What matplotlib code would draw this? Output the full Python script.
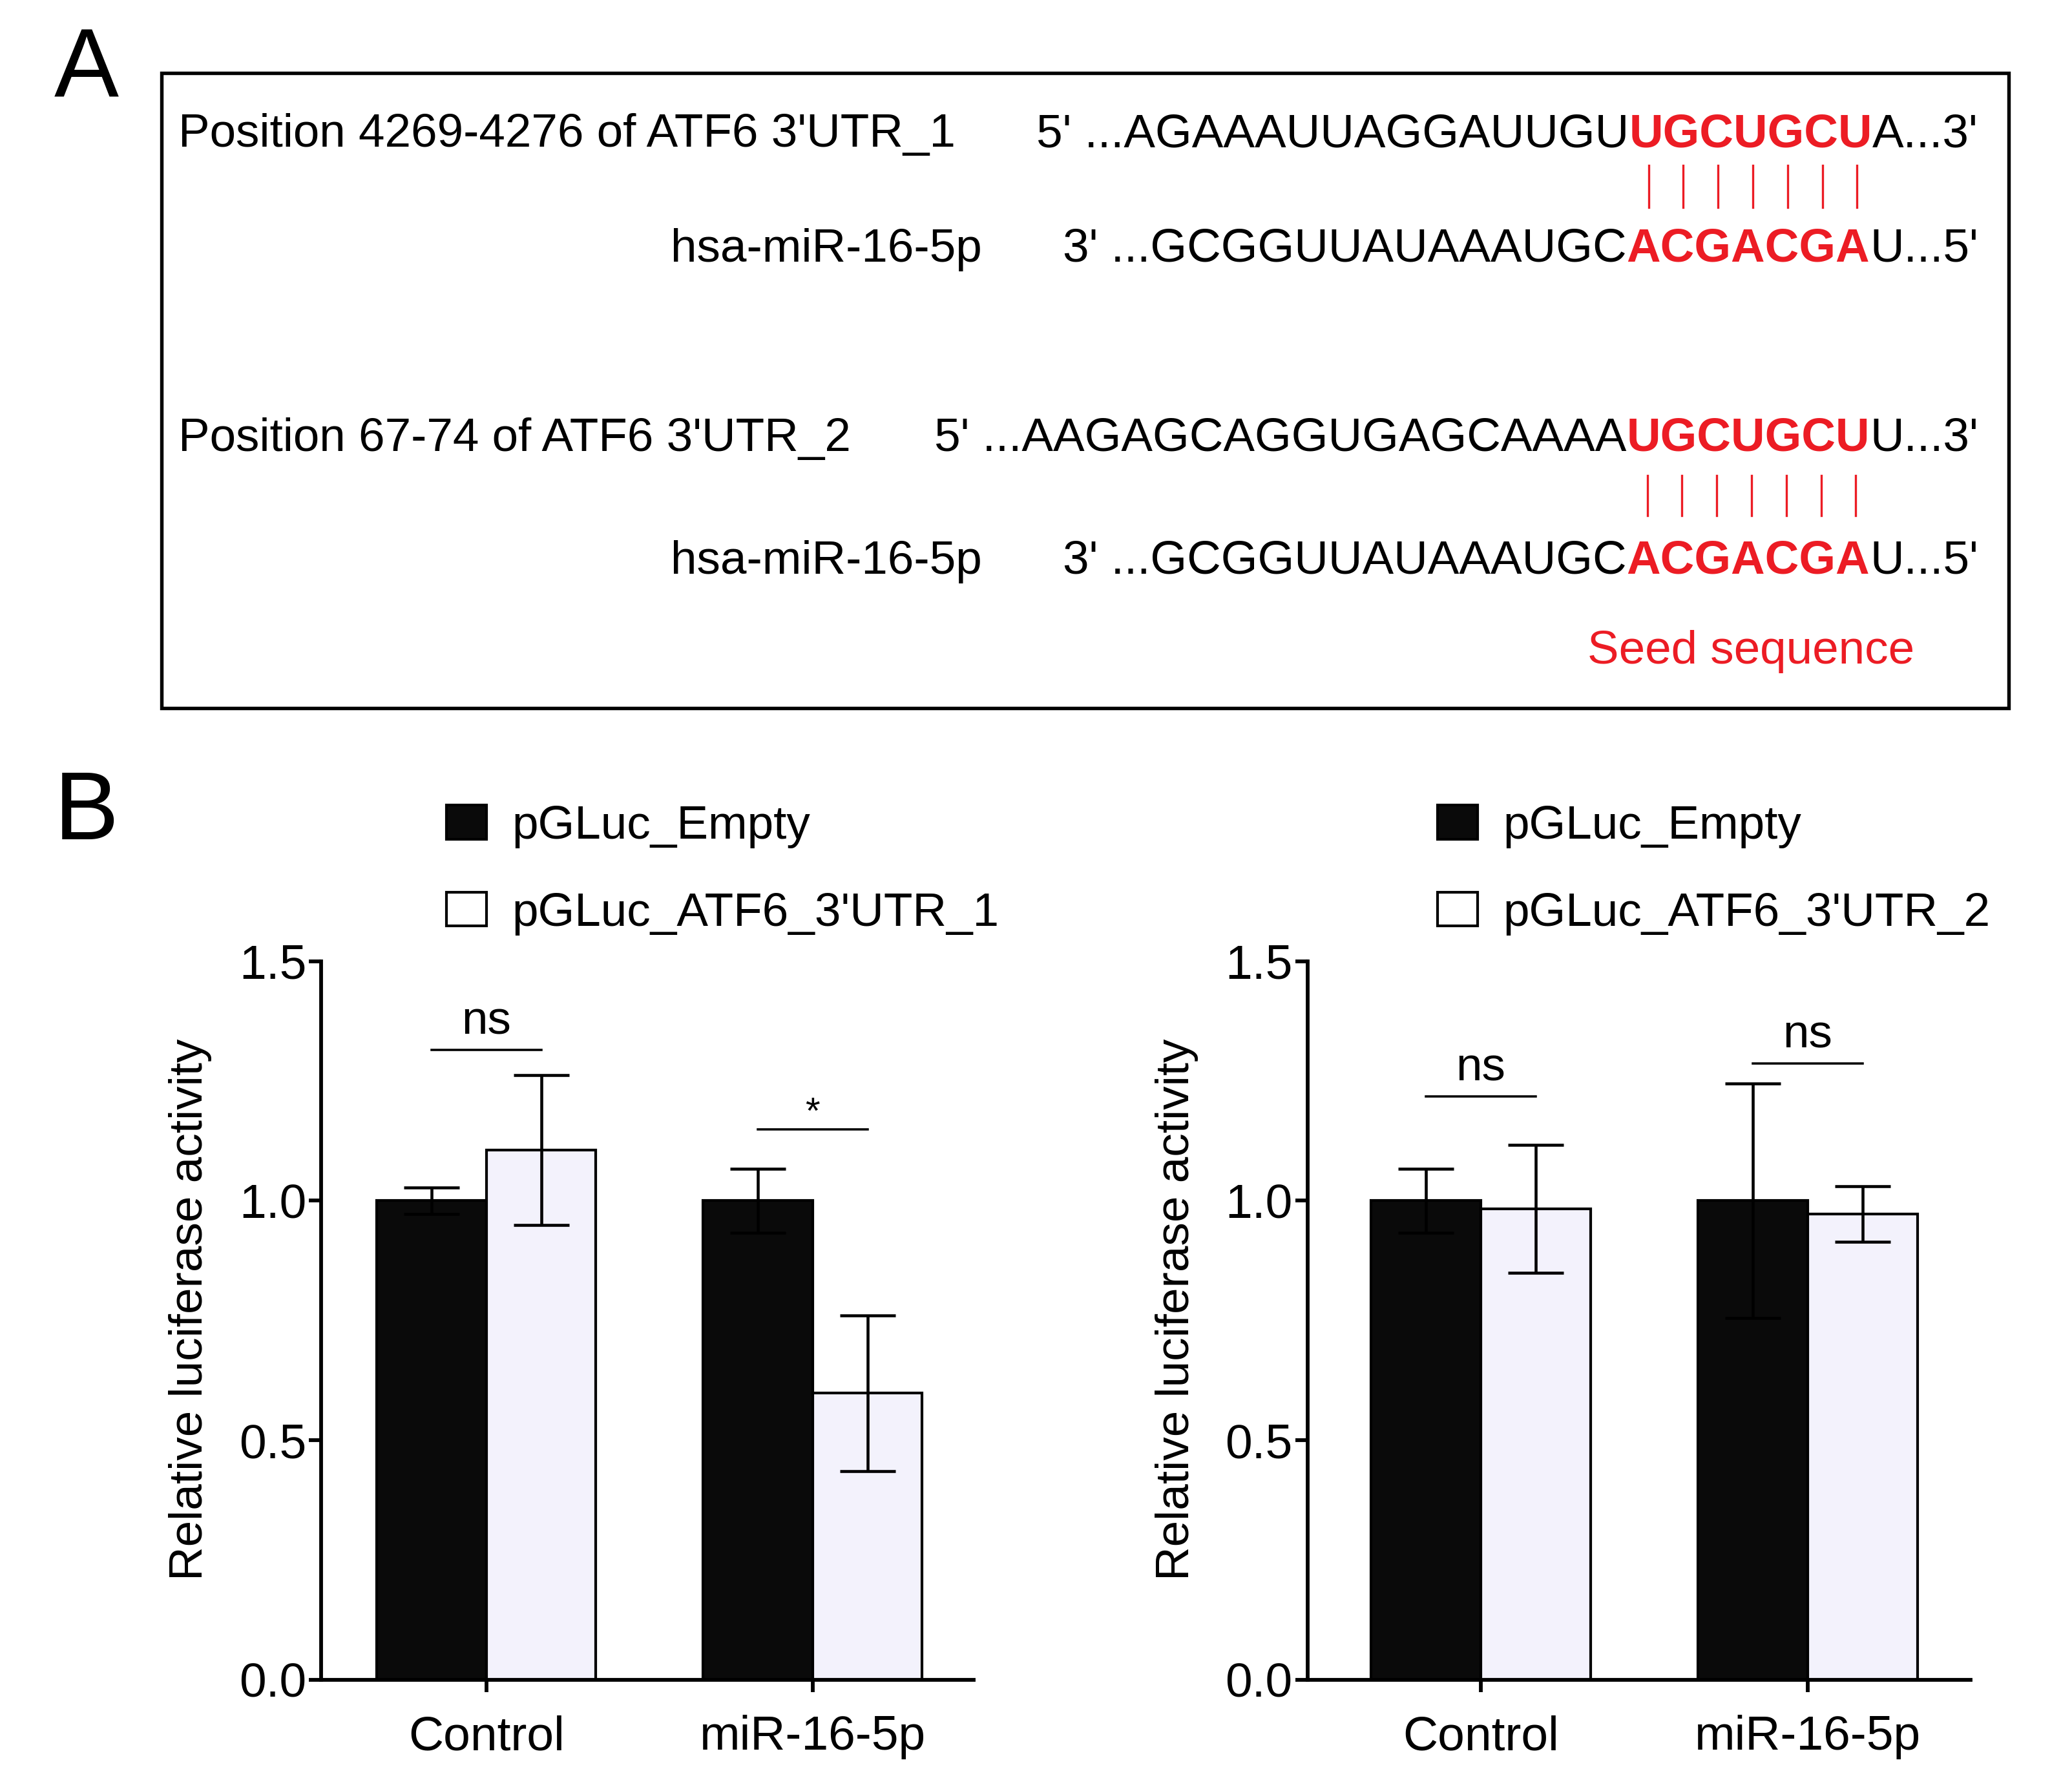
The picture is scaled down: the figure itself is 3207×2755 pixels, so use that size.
import matplotlib
matplotlib.use('Agg')
import matplotlib.pyplot as plt
import numpy as np
from matplotlib.patches import Rectangle, Patch

plt.rcParams['font.family'] = ['Liberation Sans', 'DejaVu Sans']

# Panel A sequences
utr1_label = "Position 4269-4276 of ATF6 3'UTR_1"
utr1_seq = ["5' ...AGAAAUUAGGAUUGU", "UGCUGCU", "A...3'"]
utr2_label = "Position 67-74 of ATF6 3'UTR_2"
utr2_seq = ["5' ...AAGAGCAGGUGAGCAAAA", "UGCUGCU", "U...3'"]
mir_label = "hsa-miR-16-5p"
mir_seq = ["3' ...GCGGUUAUAAAUGC", "ACGACGA", "U...5'"]
seed_label = "Seed sequence"

# Panel B data
groups = ['Control', 'miR-16-5p']
left_names = ['pGLuc_Empty', "pGLuc_ATF6_3'UTR_1"]
left_empty = [1.0, 1.0]
left_empty_err = [0.028, 0.067]
left_utr = [1.106, 0.598]
left_utr_err = [0.156, 0.162]
left_sig = ['ns', '*']
left_sig_y = [1.315, 1.149]

right_names = ['pGLuc_Empty', "pGLuc_ATF6_3'UTR_2"]
right_empty = [1.0, 1.0]
right_empty_err = [0.067, 0.245]
right_utr = [0.983, 0.972]
right_utr_err = [0.133, 0.058]
right_sig = ['ns', 'ns']
right_sig_y = [1.218, 1.287]

RED = '#EC1C24'
LAV = '#F3F2FC'
FS = 17.5

fig = plt.figure(figsize=(3207 / 300, 2755 / 300), dpi=300)
renderer = fig.canvas.get_renderer()
W = fig.bbox.width

# ---------- Panel A ----------
fig.text(0.026, 0.9458, 'A', fontsize=36, va='baseline', ha='left')
fig.text(0.026, 0.5286, 'B', fontsize=36, va='baseline', ha='left')

box = Rectangle((0.0778, 0.602), 0.9694 - 0.0778, 0.959 - 0.602,
                transform=fig.transFigure, fill=False, lw=1.3, ec='black')
fig.add_artist(box)

x_right = 0.9547


def seq_row(y, parts):
    # place pieces right-to-left so the row ends at x_right
    x = x_right
    red_span = None
    for i, txt in reversed(list(enumerate(parts))):
        red = (i == 1)
        t = fig.text(x, y, txt, ha='right', va='baseline', fontsize=FS,
                     color=RED if red else 'black',
                     fontweight='bold' if red else 'normal')
        w = t.get_window_extent(renderer).width / W
        if red:
            red_span = (x - w, x)
        x = x - w
    return red_span


rows_y = [0.9176, 0.853, 0.7468, 0.6778]
fig.text(0.0861, rows_y[0], utr1_label, fontsize=FS, va='baseline')
s1 = seq_row(rows_y[0], utr1_seq)
fig.text(0.4738, rows_y[1], mir_label, fontsize=FS, va='baseline', ha='right')
s2 = seq_row(rows_y[1], mir_seq)
fig.text(0.0861, rows_y[2], utr2_label, fontsize=FS, va='baseline')
s3 = seq_row(rows_y[2], utr2_seq)
fig.text(0.4738, rows_y[3], mir_label, fontsize=FS, va='baseline', ha='right')
s4 = seq_row(rows_y[3], mir_seq)

# base-pair ticks
for (a, b), (ytop, ybot) in [((s1, s2), (0.9072, 0.8834)),
                             ((s3, s4), (0.7327, 0.7105))]:
    lo = (a[0] + b[0]) / 2
    hi = (a[1] + b[1]) / 2
    step = (hi - lo) / 7
    for k in range(7):
        xx = lo + step * (k + 0.6)
        fig.add_artist(plt.Line2D([xx, xx], [ybot, ytop], color=RED, lw=0.8,
                                  transform=fig.transFigure))

fig.text(0.8452, 0.6273, seed_label, fontsize=FS, color=RED,
         va='baseline', ha='center')

# ---------- Panel B ----------
bw = 0.336
x = np.arange(len(groups))


def bar_panel(rect, xlim, empty, empty_err, utr, utr_err, sig, sig_y,
              names, leg_anchor):
    ax = fig.add_axes(rect)
    ax.bar(x - bw / 2, empty, bw, color='#0a0a0a', edgecolor='black', lw=1.0)
    ax.bar(x + bw / 2, utr, bw, color=LAV, edgecolor='black', lw=1.0)
    ax.errorbar(x - bw / 2, empty, yerr=empty_err, fmt='none', ecolor='black',
                elinewidth=1.1, capsize=10.4, capthick=1.1)
    ax.errorbar(x + bw / 2, utr, yerr=utr_err, fmt='none', ecolor='black',
                elinewidth=1.1, capsize=10.4, capthick=1.1)
    for xi, s, ys in zip(x, sig, sig_y):
        ax.plot([xi - bw / 2, xi + bw / 2], [ys, ys], color='black', lw=0.85)
        if s == '*':
            ax.text(xi, ys + 0.012, s, ha='center', va='baseline', fontsize=14)
        else:
            ax.text(xi, ys + 0.033, s, ha='center', va='baseline', fontsize=FS)
    ax.set_ylim(0, 1.5)
    ax.set_xlim(*xlim)
    ax.set_yticks([0.0, 0.5, 1.0, 1.5])
    ax.set_yticklabels(['0.0', '0.5', '1.0', '1.5'])
    ax.set_xticks(x)
    ax.set_xticklabels(groups)
    ax.spines['top'].set_visible(False)
    ax.spines['right'].set_visible(False)
    for sp in ['left', 'bottom']:
        ax.spines[sp].set_linewidth(1.4)
    ax.tick_params(axis='both', direction='out', length=4.5, width=1.4,
                   labelsize=18)
    ax.tick_params(axis='y', pad=1)
    ax.tick_params(axis='x', pad=8.5)
    ax.set_ylabel('Relative luciferase activity', fontsize=FS, labelpad=10)
    ax.yaxis.label.set_y(0.515)
    handles = [Patch(facecolor='#0a0a0a', edgecolor='black', lw=1.0),
               Patch(facecolor='white', edgecolor='black', lw=1.0)]
    ax.legend(handles=handles, labels=names, loc='upper left',
              bbox_to_anchor=leg_anchor,
              bbox_transform=fig.transFigure, frameon=False, fontsize=FS,
              handlelength=0.84, handleheight=0.73, handletextpad=0.55,
              labelspacing=0.93, borderpad=0, borderaxespad=0)
    return ax


ax1 = bar_panel([0.155, 0.0563, 0.315, 0.4037], (-0.506, 1.494),
                left_empty, left_empty_err, left_utr, left_utr_err,
                left_sig, left_sig_y, left_names, (0.2156, 0.5478))
ax2 = bar_panel([0.631, 0.0563, 0.320, 0.4037], (-0.530, 1.498),
                right_empty, right_empty_err, right_utr, right_utr_err,
                right_sig, right_sig_y, right_names, (0.6939, 0.5478))

fig.savefig('out.png', dpi=300)
